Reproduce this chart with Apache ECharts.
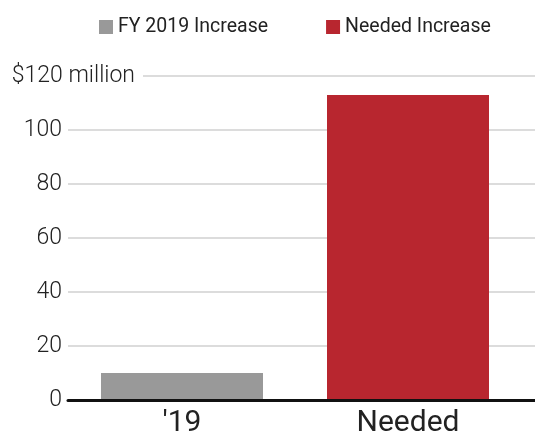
<!DOCTYPE html>
<html>
<head>
<meta charset="utf-8">
<script src="https://cdn.jsdelivr.net/npm/echarts@6/dist/echarts.min.js"></script>
<style>
html, body { margin: 0; padding: 0; background: #fff; }
#chart { width: 535px; height: 434px; }
</style>
</head>
<body>
<div id="chart"></div>
<script>
// data
var categories = ["'19", 'Needed'];
var seriesNames = ['FY 2019 Increase', 'Needed Increase'];
var fy2019 = [10, '-'];
var needed = ['-', 113];
var yMin = 0, yMax = 120, yStep = 20;

var myChart = echarts.init(document.getElementById('chart'));

var option = {
    animation: false,
    textStyle: { fontFamily: 'Roboto' },
    legend: {
        data: seriesNames,
        top: 12,
        left: 94,
        itemWidth: 14,
        itemHeight: 14,
        itemGap: 58,
        icon: 'rect',
        textStyle: { fontSize: 19.5, color: '#222', fontFamily: 'Roboto' }
    },
    // grid 0: grid lines, y labels and base line across the full width
    // grid 1: the bars and category labels
    grid: [
        { left: 68, right: 0, top: 76, bottom: 34, outerBoundsMode: 'none', containLabel: false },
        { left: 69, right: 14, top: 76, bottom: 34, outerBoundsMode: 'none', containLabel: false }
    ],
    xAxis: [
        {
            gridIndex: 0,
            type: 'category',
            data: categories,
            axisTick: { show: false },
            axisLabel: { show: false },
            axisLine: { lineStyle: { color: '#111', width: 3 } },
            z: 5
        },
        {
            gridIndex: 1,
            type: 'category',
            data: categories,
            axisTick: { show: false },
            axisLine: { show: false },
            axisLabel: { fontSize: 30, color: '#222', margin: 8, fontFamily: 'Roboto' }
        }
    ],
    yAxis: [
        {
            gridIndex: 0,
            type: 'value',
            min: yMin,
            max: yMax,
            interval: yStep,
            axisLabel: { show: false },
            axisLine: { show: false },
            axisTick: { show: false },
            splitLine: { lineStyle: { color: '#d0d0d0', width: 1.5 } }
        },
        {
            // labels only, drawn above the grid lines
            gridIndex: 0,
            type: 'value',
            position: 'left',
            min: yMin,
            max: yMax,
            interval: yStep,
            z: 10,
            axisLine: { show: false },
            axisTick: { show: false },
            splitLine: { show: false },
            axisLabel: {
                margin: -75,
                formatter: function (v) {
                    if (v === yMax) return '{t|$' + v + ' million}';
                    return '{n|' + v + '}';
                },
                rich: {
                    n: { fontSize: 23, color: '#222', padding: [0, 81, 0, 0], fontFamily: 'Roboto', fontWeight: 300 },
                    t: { fontSize: 23, color: '#222', padding: [2, 8, 2, 4], backgroundColor: '#fff', fontFamily: 'Roboto', fontWeight: 300 }
                }
            }
        },
        {
            gridIndex: 1,
            type: 'value',
            min: yMin,
            max: yMax,
            interval: yStep,
            show: false,
            splitLine: { show: false }
        }
    ],
    series: [
        {
            name: seriesNames[0],
            type: 'bar',
            xAxisIndex: 1,
            yAxisIndex: 2,
            stack: 'one',
            barWidth: 162,
            itemStyle: { color: '#999999' },
            data: fy2019
        },
        {
            name: seriesNames[1],
            type: 'bar',
            xAxisIndex: 1,
            yAxisIndex: 2,
            stack: 'one',
            barWidth: 162,
            itemStyle: { color: '#b8262f' },
            data: needed
        }
    ]
};
myChart.setOption(option);
</script>
</body>
</html>
